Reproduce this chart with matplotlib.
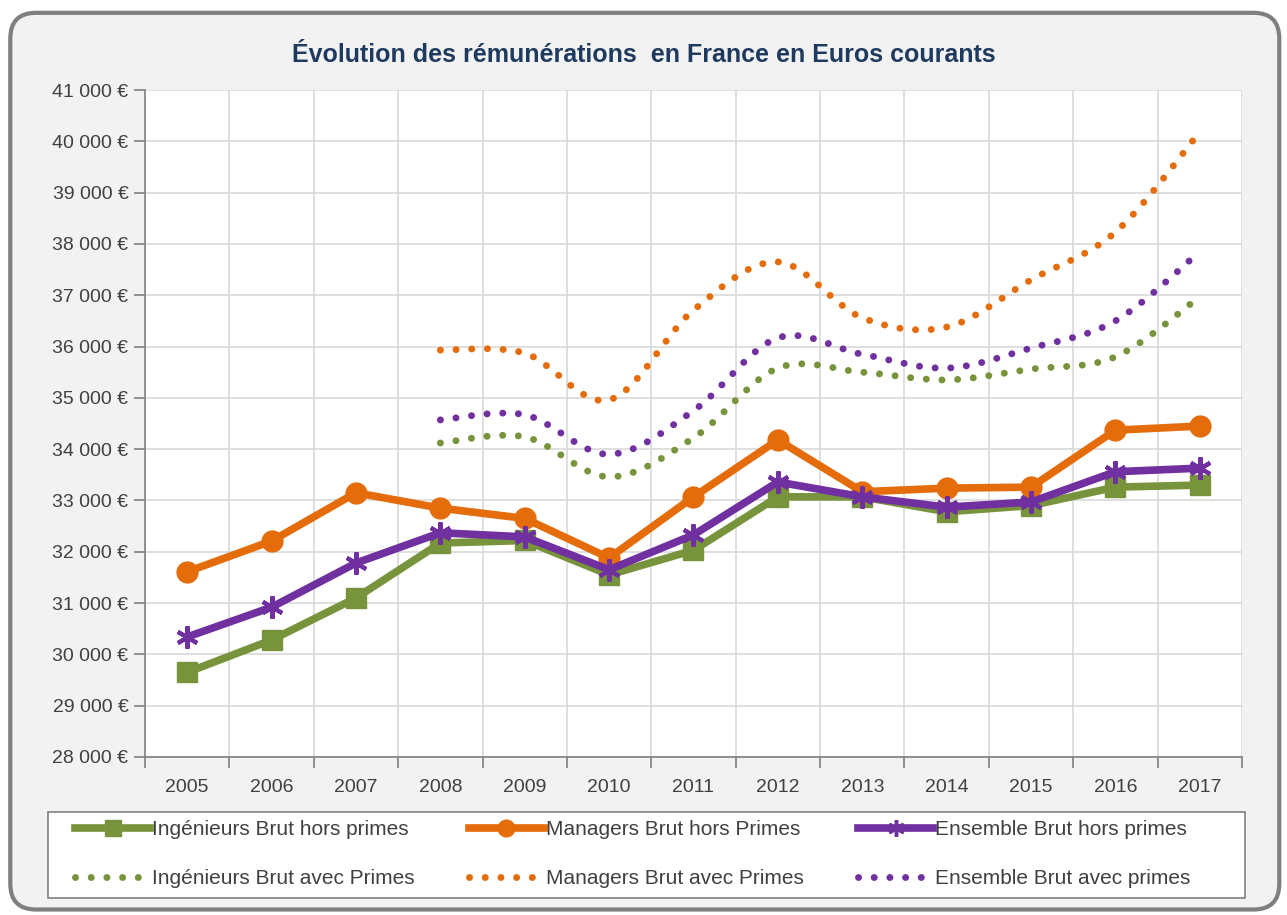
import numpy as np
import matplotlib.pyplot as plt
from matplotlib.path import Path
from matplotlib.patches import PathPatch, FancyBboxPatch, Rectangle
from matplotlib.lines import Line2D

# Données
annees = [2005, 2006, 2007, 2008, 2009, 2010, 2011, 2012, 2013, 2014, 2015, 2016, 2017]
annees_primes = [2008, 2009, 2010, 2011, 2012, 2013, 2014, 2015, 2016, 2017]

ing_hors = [29650, 30280, 31100, 32170, 32220, 31550, 32030, 33070, 33070, 32780, 32900, 33260, 33300]
man_hors = [31610, 32210, 33150, 32850, 32650, 31880, 33070, 34180, 33170, 33240, 33260, 34370, 34450]
ens_hors = [30340, 30920, 31780, 32370, 32290, 31650, 32330, 33360, 33070, 32870, 32970, 33560, 33630]

ing_avec = [34120, 34240, 33460, 34220, 35580, 35500, 35350, 35560, 35800, 36970]
man_avec = [35930, 35870, 34960, 36710, 37650, 36560, 36380, 37300, 38230, 40180]
ens_avec = [34570, 34670, 33900, 34750, 36170, 35850, 35580, 35970, 36500, 37850]

vert = '#77933C'
orange = '#E46C0A'
violet = '#7030A0'
gris_txt = '#404040'

plt.rcParams['font.family'] = ['Liberation Sans', 'DejaVu Sans']

fig = plt.figure(figsize=(12.87, 9.15), dpi=100)
fig.patch.set_facecolor('white')

# cadre arrondi
cadre = FancyBboxPatch((0.008, 0.006), 0.986, 0.98, boxstyle='round,pad=0,rounding_size=0.02',
                       transform=fig.transFigure, facecolor='#F2F2F2', edgecolor='#7F7F7F',
                       linewidth=3, zorder=-10, mutation_aspect=1287 / 915)
fig.patches.append(cadre)

ax = fig.add_axes([0.1127, 0.1727, 0.8523, 0.7289])
ax.set_facecolor('white')

x = np.arange(len(annees))
xp = np.array([annees.index(a) for a in annees_primes])


def courbe_lisse(xs, ys):
    # courbe de Bézier type "lissage" Excel (Catmull-Rom)
    pts = np.column_stack([xs, ys]).astype(float)
    verts = [pts[0]]
    codes = [Path.MOVETO]
    n = len(pts)
    for i in range(n - 1):
        p0 = pts[i - 1] if i > 0 else pts[i]
        p1 = pts[i]
        p2 = pts[i + 1]
        p3 = pts[i + 2] if i + 2 < n else pts[i + 1]
        c1 = p1 + (p2 - p0) / 6
        c2 = p2 - (p3 - p1) / 6
        verts += [c1, c2, p2]
        codes += [Path.CURVE4] * 3
    return Path(verts, codes)


lw_pt = 5.0
pointille = (0, (0.01, 2.25))
for ys, c in [(ing_avec, vert), (man_avec, orange), (ens_avec, violet)]:
    patch = PathPatch(courbe_lisse(xp, ys), fill=False, edgecolor=c, linewidth=lw_pt,
                      linestyle=pointille, capstyle='round', zorder=3)
    ax.add_patch(patch)

ax.plot(x, ing_hors, color=vert, lw=5.5, marker='s', ms=14, zorder=4, solid_joinstyle='round')
ax.plot(x, man_hors, color=orange, lw=5.5, marker='o', ms=15, zorder=5, solid_joinstyle='round')
ax.plot(x, ens_hors, color=violet, lw=5.5, marker=(6, 2, 0), ms=16, mew=3, zorder=6,
        solid_joinstyle='round')

ax.set_xlim(-0.5, len(annees) - 0.5)
ax.set_ylim(28000, 41000)

ax.set_yticks(np.arange(28000, 41001, 1000))
ax.set_yticklabels([f"{v // 1000} {v % 1000:03d} €" for v in range(28000, 41001, 1000)])
ax.set_xticks(x)
ax.set_xticklabels([str(a) for a in annees])
ax.set_xticks(np.arange(-0.5, len(annees), 1), minor=True)

ax.tick_params(axis='y', labelsize=14, colors=gris_txt, length=8, width=1.2, pad=4)
ax.tick_params(axis='x', which='major', length=0, labelsize=14, colors=gris_txt, pad=16)
ax.tick_params(axis='x', which='minor', length=8, width=1.2, color='#7F7F7F')
ax.tick_params(axis='y', color='#7F7F7F')

ax.grid(axis='y', which='major', color='#D9D9D9', lw=1.2)
ax.grid(axis='x', which='minor', color='#D9D9D9', lw=1.2)
ax.set_axisbelow(True)
for s in ['top', 'right']:
    ax.spines[s].set_visible(False)
for s in ['left', 'bottom']:
    ax.spines[s].set_color('#7F7F7F')
    ax.spines[s].set_linewidth(1.2)

fig.text(0.5, 0.94, "Évolution des rémunérations  en France en Euros courants", ha='center',
         va='center', fontsize=18, fontweight='bold', color='#1F3A5F')

# Légende
fig.patches.append(Rectangle((48 / 1287, 17 / 915), 1197 / 1287, 86 / 915,
                             transform=fig.transFigure, facecolor='white',
                             edgecolor='#7F7F7F', linewidth=1.2, zorder=-5))

h_ing = Line2D([], [], color=vert, lw=5.5, marker='s', ms=12)
h_man = Line2D([], [], color=orange, lw=5.5, marker='o', ms=12)
h_ens = Line2D([], [], color=violet, lw=5.5, marker=(6, 2, 0), ms=12, mew=2.5)
h_ing2 = Line2D([], [], color=vert, lw=lw_pt, ls=pointille, dash_capstyle='round')
h_man2 = Line2D([], [], color=orange, lw=lw_pt, ls=pointille, dash_capstyle='round')
h_ens2 = Line2D([], [], color=violet, lw=lw_pt, ls=pointille, dash_capstyle='round')

leg = fig.legend([h_ing, h_ing2, h_man, h_man2, h_ens, h_ens2],
                 ['Ingénieurs Brut hors primes', 'Ingénieurs Brut avec Primes',
                  'Managers Brut hors Primes', 'Managers Brut avec Primes',
                  'Ensemble Brut hors primes', 'Ensemble Brut avec primes'],
                 ncol=3, loc='upper left', bbox_to_anchor=(75 / 1287, 1 - 820 / 915),
                 fontsize=15, frameon=False, handlelength=3.6, handletextpad=0.1,
                 labelspacing=1.45, columnspacing=2.6, borderpad=0, borderaxespad=0)
for t in leg.get_texts():
    t.set_color(gris_txt)

plt.savefig('out.png', dpi=100)
